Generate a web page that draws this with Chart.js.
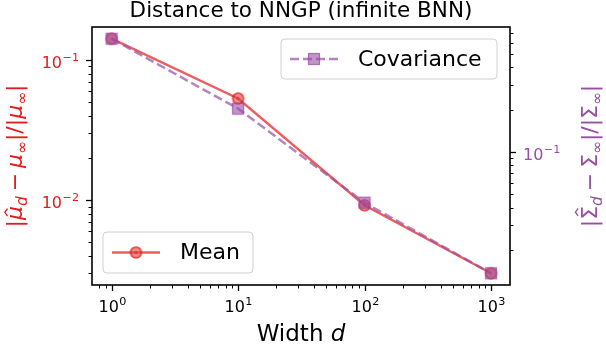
<!DOCTYPE html>
<html>
<head>
<meta charset="utf-8">
<script src="https://cdn.jsdelivr.net/npm/chart.js@4.4.1/dist/chart.umd.min.js"></script>
<style>
  html, body { margin: 0; padding: 0; background: #fff; }
  #wrap { width: 606px; height: 344px; }
</style>
</head>
<body>
<div id="wrap"><canvas id="chart" width="606" height="344"></canvas></div>
<script>
// ── DATA ─────────────────────────────────────────
const WIDTHS   = [1, 10, 100, 1000];
const MEAN_ERR = [0.142, 0.0532, 0.0092, 0.00301];
const COV_ERR  = [0.640, 0.203, 0.0433, 0.01358];

// labelled ticks: value -> exponent shown as 10^e
const X_TICK_EXP  = { 1: "0", 10: "1", 100: "2", 1000: "3" };
const YL_TICK_EXP = { 0.01: "−2", 0.1: "−1" };
const YR_TICK_EXP = { 0.1: "−1" };

const RED    = "#e41a1c";
const PURPLE = "#984ea3";
const FONT   = "DejaVu Sans";

// matplotlib style 5% margin in log space
function logLimits(vals, margin = 0.05) {
  const lo = Math.log10(Math.min(...vals)), hi = Math.log10(Math.max(...vals));
  const pad = (hi - lo) * margin;
  return [Math.pow(10, lo - pad), Math.pow(10, hi + pad)];
}
const [X_MIN, X_MAX]   = logLimits(WIDTHS);
const [YL_MIN, YL_MAX] = logLimits(MEAN_ERR);
const [YR_MIN, YR_MAX] = logLimits(COV_ERR);

// 1..9 x 10^n tick positions inside [lo, hi]
function logTicks(lo, hi) {
  const out = [];
  for (let e = Math.floor(Math.log10(lo)); e <= Math.ceil(Math.log10(hi)); e++) {
    for (let k = 1; k <= 9; k++) {
      const v = parseFloat((k * Math.pow(10, e)).toPrecision(6));
      if (v >= lo && v <= hi) out.push({ value: v, major: k === 1 });
    }
  }
  return out;
}

// ── MARKERS ──────────────────────────────────────
function circleMarker() {
  const c = document.createElement("canvas");
  c.width = c.height = 15;
  const g = c.getContext("2d");
  g.beginPath(); g.arc(7.5, 7.5, 5.6, 0, 2 * Math.PI);
  g.fillStyle = "rgba(228,26,28,0.6)"; g.fill();
  g.lineWidth = 1.2; g.strokeStyle = "rgba(228,26,28,0.8)"; g.stroke();
  g.beginPath(); g.arc(7.5, 7.5, 3, 0, 2 * Math.PI);
  g.lineWidth = 0.8; g.strokeStyle = "rgba(255,255,255,0.35)"; g.stroke();
  return c;
}
function squareMarker() {
  const c = document.createElement("canvas");
  c.width = c.height = 14;
  const g = c.getContext("2d");
  g.fillStyle = "rgba(152,78,163,0.6)"; g.fillRect(1.5, 1.5, 11, 11);
  g.lineWidth = 1.2; g.strokeStyle = "rgba(152,78,163,0.75)"; g.strokeRect(1.5, 1.5, 11, 11);
  return c;
}
const CIRCLE = circleMarker();
const SQUARE = squareMarker();

// ── MATH TEXT ────────────────────────────────────
// segments: {t, it (italic), sub, hat, cap, gap}
function mathWidth(ctx, segs, size) {
  let w = 0;
  segs.forEach(s => {
    const fs = s.sub ? size * 0.7 : size;
    ctx.font = (s.it ? "italic " : "") + fs + "px " + FONT;
    w += ctx.measureText(s.t).width + (s.gap || 0) * size;
  });
  return w;
}
function drawMath(ctx, segs, x, y, size, color) {
  ctx.fillStyle = color; ctx.strokeStyle = color;
  ctx.textBaseline = "alphabetic"; ctx.textAlign = "left";
  let cx = x;
  segs.forEach(s => {
    const fs = s.sub ? size * 0.7 : size;
    ctx.font = (s.it ? "italic " : "") + fs + "px " + FONT;
    const w = ctx.measureText(s.t).width;
    const gap = (s.gap || 0) * size;
    cx += gap / 2;
    const dy = s.sub ? size * 0.22 : 0;
    ctx.fillText(s.t, cx, y + dy);
    if (s.hat) {
      const top = s.cap ? y - size * 0.98 : y - size * 0.78;
      const mid = cx + w * 0.55;
      ctx.lineWidth = size * 0.06;
      ctx.beginPath();
      ctx.moveTo(mid - size * 0.17, top + size * 0.12);
      ctx.lineTo(mid, top);
      ctx.lineTo(mid + size * 0.17, top + size * 0.12);
      ctx.stroke();
    }
    cx += w + gap / 2;
  });
}

const LEFT_LABEL = [
  { t: "|" }, { t: "μ", it: true, hat: true }, { t: "d", it: true, sub: true },
  { t: "−", gap: 0.45 }, { t: "μ", it: true }, { t: "∞", sub: true },
  { t: "|/|" }, { t: "μ", it: true }, { t: "∞", sub: true }, { t: "|" },
];
const RIGHT_LABEL = [
  { t: "|" }, { t: "Σ", hat: true, cap: true }, { t: "d", it: true, sub: true },
  { t: "−", gap: 0.45 }, { t: "Σ" }, { t: "∞", sub: true },
  { t: "|/|" }, { t: "Σ" }, { t: "∞", sub: true }, { t: "|" },
];

// 10^e tick label; align: "center" | "left" | "right", y = baseline of "10"
function drawPow(ctx, exp, x, y, align, color) {
  ctx.fillStyle = color; ctx.textAlign = "left"; ctx.textBaseline = "alphabetic";
  ctx.font = "16px " + FONT;
  const wb = ctx.measureText("10").width;
  ctx.font = "11.2px " + FONT;
  const we = ctx.measureText(exp).width;
  const w = wb + we + 0.5;
  let x0 = align === "center" ? x - w / 2 : align === "right" ? x - w : x;
  ctx.font = "16px " + FONT;
  ctx.fillText("10", x0, y);
  ctx.font = "11.2px " + FONT;
  ctx.fillText(exp, x0 + wb + 0.5, y - 6.8);
}

// ── DECORATION PLUGIN ────────────────────────────
function roundRect(ctx, x, y, w, h, r) {
  ctx.beginPath();
  ctx.moveTo(x + r, y);
  ctx.arcTo(x + w, y, x + w, y + h, r);
  ctx.arcTo(x + w, y + h, x, y + h, r);
  ctx.arcTo(x, y + h, x, y, r);
  ctx.arcTo(x, y, x + w, y, r);
  ctx.closePath();
}

function drawLegend(ctx, box, label, marker, color, dash) {
  roundRect(ctx, box.x, box.y, box.w, box.h, 4);
  ctx.fillStyle = "rgba(255,255,255,0.8)"; ctx.fill();
  ctx.lineWidth = 1; ctx.strokeStyle = "#d0d0d0"; ctx.stroke();
  const ly = box.y + box.h / 2;
  ctx.save();
  ctx.strokeStyle = color; ctx.lineWidth = 2.5; ctx.setLineDash(dash);
  ctx.beginPath(); ctx.moveTo(box.x + 9, ly); ctx.lineTo(box.x + 57, ly); ctx.stroke();
  ctx.restore();
  ctx.drawImage(marker, box.x + 33 - marker.width / 2, ly - marker.height / 2);
  ctx.fillStyle = "#000"; ctx.font = "22px " + FONT;
  ctx.textAlign = "left"; ctx.textBaseline = "middle";
  ctx.fillText(label, box.x + 77, ly + 1);
}

const decorations = {
  id: "decorations",
  afterDraw(chart) {
    const { ctx, chartArea: a, scales } = chart;
    ctx.save();
    // tick marks (outward) and labels
    ctx.strokeStyle = "#000";
    const mark = (x1, y1, x2, y2, w) => {
      ctx.lineWidth = w; ctx.beginPath(); ctx.moveTo(x1, y1); ctx.lineTo(x2, y2); ctx.stroke();
    };
    scales.x.ticks.forEach(t => {
      const px = Math.round(scales.x.getPixelForValue(t.value)) + 0.5;
      mark(px, a.bottom, px, a.bottom + (t.major ? 6 : 3.5), t.major ? 1.3 : 1);
      if (X_TICK_EXP[t.value]) drawPow(ctx, X_TICK_EXP[t.value], px, 312, "center", "#000");
    });
    scales.yL.ticks.forEach(t => {
      const py = Math.round(scales.yL.getPixelForValue(t.value)) + 0.5;
      mark(a.left, py, a.left - (t.major ? 6 : 3.5), py, t.major ? 1.3 : 1);
      if (YL_TICK_EXP[t.value]) drawPow(ctx, YL_TICK_EXP[t.value], a.left - 13, py + 7.3, "right", RED);
    });
    scales.yR.ticks.forEach(t => {
      const py = Math.round(scales.yR.getPixelForValue(t.value)) + 0.5;
      mark(a.right, py, a.right + (t.major ? 6 : 3.5), py, t.major ? 1.3 : 1);
      if (YR_TICK_EXP[t.value]) drawPow(ctx, YR_TICK_EXP[t.value], a.right + 13, py + 7.3, "left", PURPLE);
    });
    // frame
    ctx.strokeStyle = "#000";
    ctx.lineWidth = 1.6;
    ctx.strokeRect(a.left, a.top, a.right - a.left, a.bottom - a.top);

    // legends
    drawLegend(ctx, { x: 281, y: 39, w: 216, h: 40 }, "Covariance", SQUARE, "rgba(152,78,163,0.7)", [9, 4]);
    drawLegend(ctx, { x: 103, y: 232, w: 150, h: 41 }, "Mean", CIRCLE, "rgba(228,26,28,0.7)", []);

    // title
    const cx = (a.left + a.right) / 2;
    ctx.fillStyle = "#000"; ctx.textAlign = "center"; ctx.textBaseline = "alphabetic";
    ctx.font = "21.5px " + FONT;
    ctx.fillText("Distance to NNGP (infinite BNN)", cx, 17);

    // x title
    ctx.font = "23px " + FONT;
    const w1 = ctx.measureText("Width ").width;
    ctx.font = "italic 23px " + FONT;
    const w2 = ctx.measureText("d").width;
    ctx.textAlign = "left";
    ctx.font = "23px " + FONT;
    ctx.fillText("Width ", cx - (w1 + w2) / 2, 341);
    ctx.font = "italic 23px " + FONT;
    ctx.fillText("d", cx - (w1 + w2) / 2 + w1, 341);

    // y titles
    const cy = (a.top + a.bottom) / 2;
    [[LEFT_LABEL, 22, RED], [RIGHT_LABEL, 597, PURPLE]].forEach(([segs, x, col]) => {
      const w = mathWidth(ctx, segs, 22);
      ctx.save();
      ctx.translate(x, cy);
      ctx.rotate(-Math.PI / 2);
      drawMath(ctx, segs, -w / 2, 0, 22, col);
      ctx.restore();
    });
    ctx.restore();
  },
};

// ── CHART ────────────────────────────────────────
const axisBase = {
  type: "logarithmic",
  grid: { display: false, drawTicks: false },
  border: { display: false },
  ticks: { display: false, autoSkip: false },
};

new Chart(document.getElementById("chart").getContext("2d"), {
  type: "line",
  data: {
    labels: WIDTHS,
    datasets: [
      {
        label: "Covariance",
        data: WIDTHS.map((w, i) => ({ x: w, y: COV_ERR[i] })),
        yAxisID: "yR",
        borderColor: "rgba(152,78,163,0.7)",
        borderWidth: 2.5,
        borderDash: [9, 4],
        pointStyle: SQUARE,
        tension: 0,
        order: 0,
      },
      {
        label: "Mean",
        data: WIDTHS.map((w, i) => ({ x: w, y: MEAN_ERR[i] })),
        yAxisID: "yL",
        borderColor: "rgba(228,26,28,0.7)",
        borderWidth: 2.5,
        pointStyle: CIRCLE,
        tension: 0,
        order: 1,
      },
    ],
  },
  options: {
    responsive: false,
    animation: false,
    events: [],
    layout: { padding: { top: 27, left: 0, right: 0, bottom: 0 } },
    plugins: { legend: { display: false }, tooltip: { enabled: false } },
    scales: {
      x: {
        ...axisBase,
        position: "bottom",
        min: X_MIN, max: X_MAX,
        afterBuildTicks: s => { s.ticks = logTicks(X_MIN, X_MAX); },
        afterFit: s => { s.height = 59; },
      },
      yL: {
        ...axisBase,
        position: "left",
        min: YL_MIN, max: YL_MAX,
        afterBuildTicks: s => { s.ticks = logTicks(YL_MIN, YL_MAX); },
        afterFit: s => { s.width = 92; },
      },
      yR: {
        ...axisBase,
        position: "right",
        min: YR_MIN, max: YR_MAX,
        afterBuildTicks: s => { s.ticks = logTicks(YR_MIN, YR_MAX); },
        afterFit: s => { s.width = 96; },
      },
    },
  },
  plugins: [decorations],
});
</script>
</body>
</html>
